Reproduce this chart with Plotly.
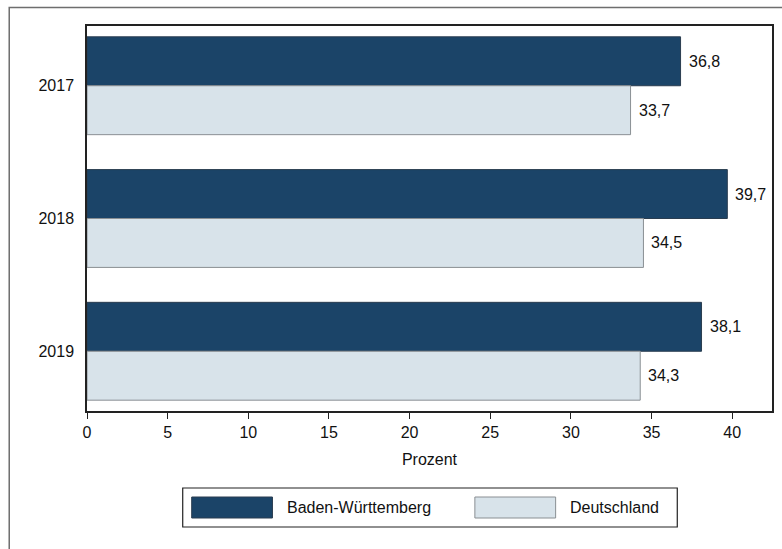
import plotly.graph_objects as go

years = ["2017", "2018", "2019"]
bw_values = [36.8, 39.7, 38.1]
de_values = [33.7, 34.5, 34.3]
series_names = ["Baden-Württemberg", "Deutschland"]
x_ticks = [0, 5, 10, 15, 20, 25, 30, 35, 40]

DARK = "#1b4468"
LIGHT = "#d8e3ea"
FONT = "Liberation Sans, Arial, Helvetica, sans-serif"

W, H = 782, 549
ML, MR, MT, MB = 87, 8, 26, 138
PW, PH = W - ML - MR, H - MT - MB

def px_x(x):
    return (x - ML) / PW

def px_y(y):
    return (H - MB - y) / PH

pos = list(range(len(years)))
bargap = 0.263
bw_w = (1 - bargap) / 2

fig = go.Figure()
fig.add_trace(go.Bar(y=pos, x=bw_values, orientation="h", name=series_names[0],
                     marker=dict(color=DARK, line=dict(color="#2a3d50", width=1)),
                     showlegend=False))
fig.add_trace(go.Bar(y=pos, x=de_values, orientation="h", name=series_names[1],
                     marker=dict(color=LIGHT, line=dict(color="#8a8f93", width=1)),
                     showlegend=False))

annotations = []
for i, (a, b) in enumerate(zip(bw_values, de_values)):
    for val, off in ((a, -bw_w / 2), (b, bw_w / 2)):
        annotations.append(dict(x=val, y=i + off, xref="x", yref="y",
                                text=f"{val:.1f}".replace(".", ","),
                                showarrow=False, xanchor="left", xshift=6,
                                font=dict(size=16, color="#111", family=FONT)))

# legend (drawn manually)
annotations.append(dict(x=px_x(286), y=px_y(507.5), xref="paper", yref="paper",
                        text=series_names[0], showarrow=False, xanchor="left",
                        yanchor="middle", font=dict(size=16, color="#111", family=FONT)))
annotations.append(dict(x=px_x(569), y=px_y(507.5), xref="paper", yref="paper",
                        text=series_names[1], showarrow=False, xanchor="left",
                        yanchor="middle", font=dict(size=16, color="#111", family=FONT)))

shapes = [
    # outer frame
    dict(type="path", xref="paper", yref="paper",
         path=f"M {px_x(9)},{px_y(560)} L {px_x(9)},{px_y(7.5)} L {px_x(790)},{px_y(7.5)}",
         line=dict(color="#6e6e6e", width=1.5)),
    # legend box
    dict(type="rect", xref="paper", yref="paper", x0=px_x(183), x1=px_x(679),
         y0=px_y(527), y1=px_y(488), line=dict(color="#222", width=1.2)),
    dict(type="rect", xref="paper", yref="paper", x0=px_x(192), x1=px_x(273),
         y0=px_y(518), y1=px_y(497), fillcolor=DARK, line=dict(color="#2a3d50", width=1)),
    dict(type="rect", xref="paper", yref="paper", x0=px_x(476), x1=px_x(557),
         y0=px_y(518), y1=px_y(497), fillcolor=LIGHT, line=dict(color="#8a8f93", width=1)),
]

fig.update_layout(
    width=W, height=H,
    margin=dict(l=ML, r=MR, t=MT, b=MB, pad=0),
    paper_bgcolor="white", plot_bgcolor="white",
    barmode="group", bargap=bargap, bargroupgap=0,
    font=dict(family=FONT, size=16, color="#111"),
    annotations=annotations, shapes=shapes,
    xaxis=dict(range=[0, 42.47], tickvals=x_ticks, ticks="outside", ticklen=6,
               tickcolor="#222", tickwidth=1.2, showgrid=False, zeroline=False,
               showline=True, linecolor="#222", linewidth=1.5, mirror=True,
               title=dict(text="Prozent", font=dict(size=16), standoff=14),
               tickfont=dict(size=16)),
    yaxis=dict(range=[2.45, -0.45], tickvals=pos, ticktext=years, ticks="",
               showgrid=False, zeroline=False, showline=True, linecolor="#222",
               linewidth=1.5, mirror=True, ticklabelstandoff=8,
               tickfont=dict(size=16)),
)

fig.write_html("out.html", config={"displayModeBar": False},
               post_script="document.body.style.margin='0';document.body.style.overflow='hidden';")
